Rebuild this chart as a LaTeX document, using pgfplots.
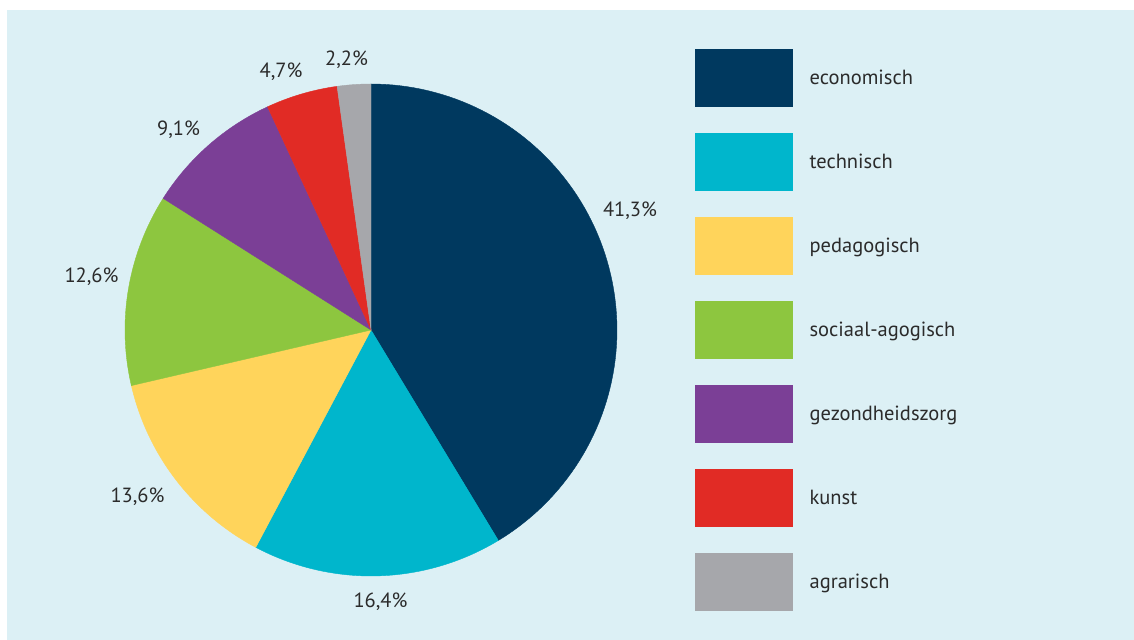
\documentclass[border=0pt]{standalone}
\usepackage{pgfplots}
\pgfplotsset{compat=1.18}
\usepackage{pgfplotstable}
\usepackage{fontspec}
\setmainfont{PT Sans}

\definecolor{cbg}{HTML}{DCF0F5}
\definecolor{ctext}{HTML}{2B2B2B}
\definecolor{ceco}{HTML}{00395F}
\definecolor{ctech}{HTML}{00B6CC}
\definecolor{cped}{HTML}{FFD45B}
\definecolor{csoc}{HTML}{8DC63F}
\definecolor{cgez}{HTML}{7B3F96}
\definecolor{ckun}{HTML}{E12B25}
\definecolor{cagr}{HTML}{A6A7AB}

\newcommand\lbl{\fontsize{20.5bp}{24bp}\selectfont}

% share per sector (%), clockwise from the top
\pgfplotstableread{
value colour label
41.3 ceco economisch
16.4 ctech technisch
13.6 cped pedagogisch
12.6 csoc sociaal-agogisch
9.1 cgez gezondheidszorg
4.7 ckun kunst
2.2 cagr agrarisch
}\piedata

\begin{document}
\begin{tikzpicture}
\begin{axis}[
  x=1bp, y=1bp, xmin=0, xmax=1134, ymin=0, ymax=640,
  hide axis, clip=false,
  legend image code/.code={\fill[#1] (0bp,-28.5bp) rectangle (97bp,28.5bp);},
  legend style={at={(axis cs:695,591)}, anchor=north west, draw=none, fill=none,
    inner sep=0pt, row sep=26.6bp, font=\lbl, text=ctext,
    nodes={inner sep=0pt}, cells={anchor=west},
    /tikz/every odd column/.append style={column sep=17bp}},
]
\fill[white] (axis cs:0,0) rectangle (axis cs:1134,640);
\fill[cbg] (axis cs:7,0) rectangle (axis cs:1134,630);

\pgfplotstablegetrowsof{\piedata}
\pgfmathtruncatemacro\nrows{\pgfplotsretval-1}
\def\total{0}
\pgfplotsforeachungrouped \i in {0,...,\nrows}{%
  \pgfplotstablegetelem{\i}{value}\of\piedata
  \pgfmathsetmacro\total{\total+\pgfplotsretval}%
}
\def\cum{0}
\pgfplotsforeachungrouped \i in {0,...,\nrows}{%
  \pgfplotstablegetelem{\i}{value}\of\piedata \let\val\pgfplotsretval
  \pgfplotstablegetelem{\i}{colour}\of\piedata \let\col\pgfplotsretval
  \pgfplotstablegetelem{\i}{label}\of\piedata \let\lab\pgfplotsretval
  \pgfmathsetmacro\hi{90-\cum/\total*360}%
  \pgfmathsetmacro\cum{\cum+\val}%
  \pgfmathsetmacro\lo{90-\cum/\total*360}%
  \edef\slice{\noexpand\addplot[fill=\col, draw=\col, line width=0.4bp,
      domain=\lo:\hi, samples=90, variable=\noexpand\t]
    ({371+246*cos(\noexpand\t)},{310+246*sin(\noexpand\t)})
    -- (axis cs:371,310) -- cycle;}%
  \slice
  \addlegendentryexpanded{\lab}
}

\begin{scope}[every node/.style={font=\lbl, text=ctext}]
\node at (axis cs:630,429) {41,3\%};
\node at (axis cs:380.5,38) {16,4\%};
\node at (axis cs:137.5,143) {13,6\%};
\node at (axis cs:91.5,363) {12,6\%};
\node at (axis cs:178.5,510) {9,1\%};
\node at (axis cs:281,568) {4,7\%};
\node at (axis cs:346.5,580) {2,2\%};
\end{scope}
\end{axis}
\end{tikzpicture}
\end{document}
